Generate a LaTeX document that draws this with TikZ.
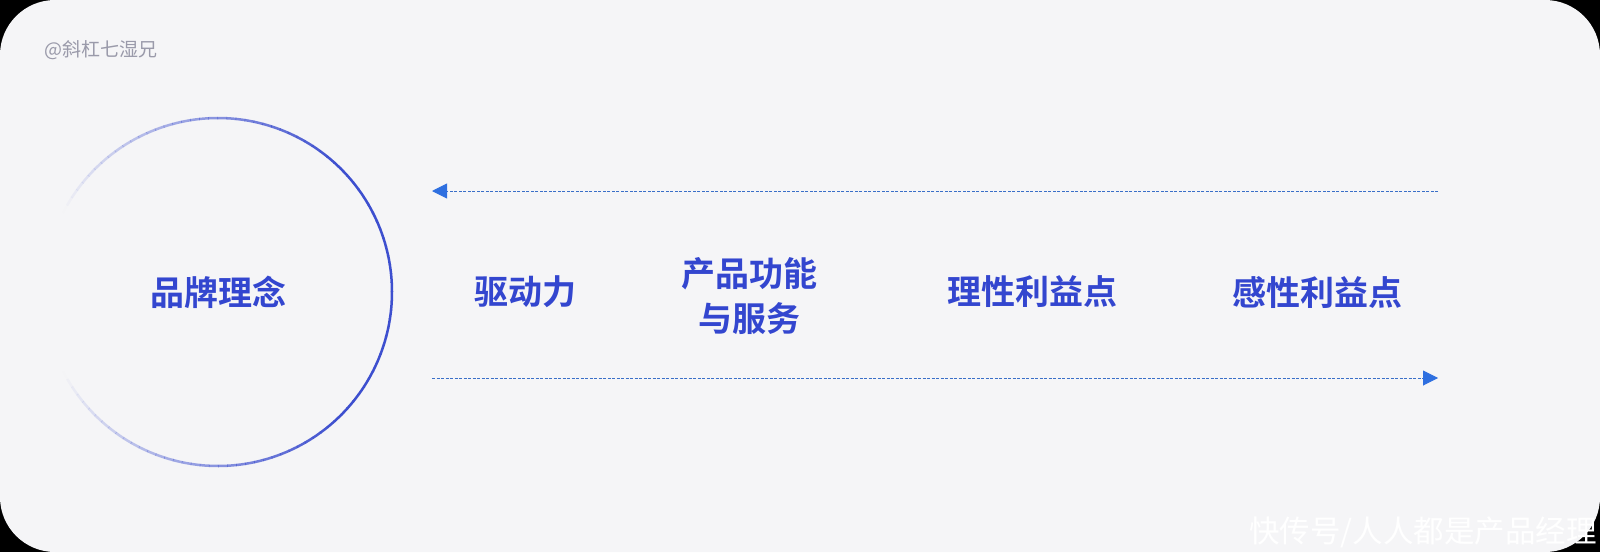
\documentclass[tikz,border=0pt]{standalone}
\usepackage{fontspec}
\newfontfamily\cjk{Noto Sans CJK SC}
\newfontfamily\cjkb{Noto Sans CJK SC Bold}
\usetikzlibrary{arrows.meta}
\definecolor{bgc}{HTML}{F5F5F7}
\definecolor{lab}{HTML}{3346CF}
\definecolor{ring}{HTML}{3D4FCF}
\definecolor{dash}{HTML}{3A6FC8}
\definecolor{tip}{HTML}{2E6FE0}
\definecolor{wm}{HTML}{9A9AAA}
\begin{document}
\begin{tikzpicture}[x=1pt,y=-1pt,
  label/.style={font=\cjkb\fontsize{34}{45}\selectfont, text=lab, align=center, inner sep=0pt},
  flow/.style={draw=dash, line width=0.9pt, dash pattern=on 3pt off 1.5pt,
    -{Triangle[length=15pt,width=15pt,fill=tip,color=tip]}, shorten >=0pt}]
\useasboundingbox (0,0) rectangle (1600,552);
\fill[black] (0,0) rectangle (1600,552);
\fill[bgc, rounded corners=55pt] (0,0) rectangle (1600,552);
% ring with fading
\coordinate (cc) at (218,292);
\foreach \a in {-180,-177,...,177}{
  \pgfmathsetmacro{\op}{max(0,min(1,(152-abs(\a+1.5))/105))}
  \draw[ring, line width=2.5pt, draw opacity=\op] (cc) ++(\a:174pt) arc[start angle=\a, end angle=\a+3.2, radius=174pt];
}
\node[label] (brand) at (cc) {品牌理念};
\node[label] (drive) at (525,292) {驱动力};
\node[label] (prod) at (749,296) {产品功能\\与服务};
\node[label] (rat) at (1032,292) {理性利益点};
\node[label] (emo) at (1317,292) {感性利益点};
\coordinate (tr) at (1438,191);
\coordinate (tl) at (432,191);
\coordinate (bl) at (432,378);
\coordinate (br) at (1438,378);
\draw[flow] (tr) -- (tl);
\draw[flow] (bl) -- (br);
\node[font=\cjk\fontsize{19}{19}\selectfont, text=wm, anchor=west, inner sep=0pt] (wmark) at (44,50) {@斜杠七湿兄};
\node[font=\cjk\fontsize{30.5}{30.5}\selectfont, text=white, anchor=west, inner sep=0pt] (src) at (1249,532) {快传号/人人都是产品经理};
\end{tikzpicture}
\end{document}
